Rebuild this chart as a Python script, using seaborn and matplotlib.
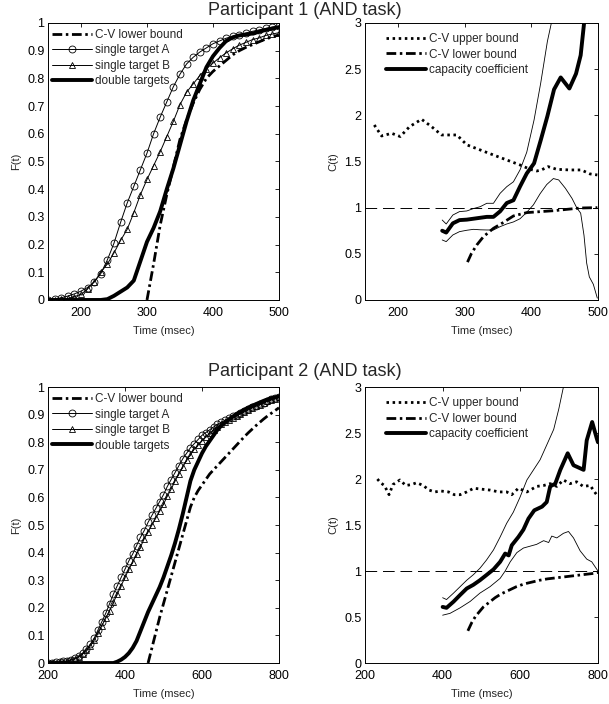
import matplotlib
matplotlib.use("Agg")
import matplotlib.pyplot as plt
import seaborn as sns
from matplotlib.ticker import FuncFormatter, MultipleLocator

# ---------------- Participant 1: cumulative distributions ----------------
t_f1 = list(range(150, 501, 10))
single_a1 = [0.0, 0.003, 0.008, 0.014, 0.022, 0.032, 0.045, 0.065, 0.095, 0.145,
             0.205, 0.28, 0.35, 0.41, 0.47, 0.53, 0.6, 0.66, 0.715, 0.77,
             0.815, 0.852, 0.876, 0.895, 0.91, 0.925, 0.935, 0.945, 0.952, 0.958,
             0.964, 0.97, 0.975, 0.98, 0.985, 0.988]
single_b1 = [0.0, 0.001, 0.003, 0.006, 0.012, 0.02, 0.04, 0.065, 0.1, 0.13,
             0.17, 0.215, 0.255, 0.315, 0.38, 0.435, 0.485, 0.535, 0.59, 0.645,
             0.705, 0.75, 0.78, 0.81, 0.835, 0.855, 0.875, 0.892, 0.907, 0.92,
             0.93, 0.94, 0.946, 0.955, 0.96, 0.965]
double_1 = [0.0, 0.0, 0.0, 0.0, 0.0, 0.0, 0.0, 0.0, 0.0, 0.003,
            0.015, 0.03, 0.045, 0.07, 0.14, 0.21, 0.26, 0.32, 0.4, 0.475,
            0.56, 0.645, 0.72, 0.78, 0.84, 0.88, 0.91, 0.935, 0.948, 0.955,
            0.958, 0.962, 0.968, 0.975, 0.98, 0.985]
t_lb_f1 = list(range(300, 501, 10))
lower_f1 = [0.0, 0.13, 0.27, 0.38, 0.48, 0.58, 0.65, 0.71, 0.76, 0.8,
            0.825, 0.845, 0.865, 0.885, 0.9, 0.912, 0.922, 0.932, 0.942, 0.95, 0.957]

# ---------------- Participant 1: capacity ----------------
t_ub1 = [164, 175, 190, 203, 217, 235, 250, 265, 288, 303, 323, 343, 363, 383,
         398, 408, 415, 425, 438, 458, 475, 488, 499]
upper_c1 = [1.895, 1.776, 1.805, 1.77, 1.877, 1.957, 1.877, 1.787, 1.787, 1.68,
            1.625, 1.57, 1.516, 1.462, 1.415, 1.397, 1.408, 1.444, 1.415, 1.408,
            1.408, 1.365, 1.354]
t_lbc1 = [304, 310, 318, 328, 343, 358, 373, 393, 414, 434, 454, 474, 499]
lower_c1 = [0.41, 0.505, 0.596, 0.686, 0.776, 0.84, 0.91, 0.946, 0.957, 0.967,
            0.982, 0.996, 1.0]
t_cap1 = [266, 272, 282, 292, 303, 313, 323, 333, 343, 353, 363, 373, 383, 393,
          404, 414, 424, 434, 444, 457, 467, 474, 479, 484]
capacity_1 = [0.75, 0.73, 0.83, 0.865, 0.87, 0.88, 0.89, 0.9, 0.9, 0.96, 1.05,
              1.08, 1.23, 1.37, 1.48, 1.73, 1.99, 2.28, 2.41, 2.29, 2.45, 2.65,
              2.99, 3.4]
t_ci_hi1 = [266, 272, 282, 292, 303, 313, 323, 333, 343, 353, 363, 373, 383, 393,
            404, 414, 424, 430, 436]
ci_hi1 = [0.866, 0.823, 0.92, 0.957, 0.964, 0.99, 1.01, 1.047, 1.047, 1.155,
          1.227, 1.28, 1.41, 1.6, 1.95, 2.35, 2.8, 3.0, 3.3]
t_ci_lo1 = [266, 272, 282, 292, 303, 313, 323, 333, 343, 353, 363, 373, 383, 393,
            403, 413, 423, 433, 441, 451, 461, 468, 474, 479, 483, 487, 493, 499]
ci_lo1 = [0.65, 0.632, 0.704, 0.74, 0.755, 0.765, 0.76, 0.758, 0.758, 0.794,
          0.823, 0.845, 0.88, 0.95, 1.03, 1.15, 1.25, 1.315, 1.3, 1.21, 1.1, 1.0,
          0.94, 0.7, 0.4, 0.25, 0.17, 0.02]

# ---------------- Participant 2: cumulative distributions ----------------
t_f2 = list(range(200, 801, 10))
single_a2 = [0.0, 0.0, 0.002, 0.004, 0.006, 0.008, 0.012, 0.018, 0.025, 0.035,
             0.05, 0.068, 0.09, 0.12, 0.15, 0.18, 0.215, 0.25, 0.28, 0.31,
             0.34, 0.37, 0.395, 0.425, 0.455, 0.48, 0.51, 0.535, 0.56, 0.585,
             0.61, 0.64, 0.665, 0.69, 0.715, 0.74, 0.76, 0.78, 0.795, 0.81,
             0.825, 0.835, 0.845, 0.855, 0.865, 0.872, 0.88, 0.887, 0.894, 0.9,
             0.907, 0.914, 0.92, 0.926, 0.932, 0.938, 0.944, 0.95, 0.955, 0.96,
             0.965]
single_b2 = [0.0, 0.0, 0.001, 0.002, 0.004, 0.006, 0.01, 0.015, 0.022, 0.032,
             0.046, 0.062, 0.082, 0.108, 0.135, 0.162, 0.19, 0.22, 0.25, 0.28,
             0.31, 0.34, 0.365, 0.395, 0.42, 0.45, 0.475, 0.5, 0.525, 0.55,
             0.575, 0.605, 0.63, 0.66, 0.685, 0.71, 0.735, 0.755, 0.775, 0.79,
             0.805, 0.82, 0.832, 0.845, 0.855, 0.865, 0.873, 0.881, 0.889, 0.896,
             0.903, 0.91, 0.917, 0.924, 0.93, 0.936, 0.942, 0.948, 0.953, 0.958,
             0.963]
double_2 = [0.0, 0.0, 0.0, 0.0, 0.0, 0.0, 0.0, 0.0, 0.0, 0.0,
            0.0, 0.0, 0.0, 0.0, 0.0, 0.0, 0.0, 0.0, 0.005, 0.012,
            0.022, 0.036, 0.055, 0.08, 0.115, 0.15, 0.185, 0.215, 0.245, 0.275,
            0.31, 0.35, 0.39, 0.435, 0.485, 0.54, 0.6, 0.66, 0.7, 0.73,
            0.76, 0.785, 0.805, 0.825, 0.845, 0.86, 0.872, 0.883, 0.893, 0.902,
            0.91, 0.918, 0.925, 0.932, 0.938, 0.944, 0.95, 0.955, 0.96, 0.963,
            0.967]
t_lb_f2 = list(range(460, 801, 10))
lower_f2 = [0.0, 0.055, 0.11, 0.165, 0.215, 0.265, 0.315, 0.365, 0.415, 0.465,
            0.515, 0.565, 0.6, 0.625, 0.645, 0.665, 0.685, 0.7, 0.715, 0.73,
            0.745, 0.76, 0.775, 0.79, 0.805, 0.82, 0.834, 0.847, 0.86, 0.872,
            0.884, 0.895, 0.905, 0.915, 0.925]

# ---------------- Participant 2: capacity ----------------
t_ub2 = [232, 240, 250, 262, 272, 290, 305, 320, 333, 350, 365, 380, 395, 415,
         430, 445, 462, 480, 500, 522, 545, 565, 578, 595, 617, 642, 660, 677,
         694, 711, 728, 745, 762, 780, 793, 800]
upper_c2 = [2.0, 1.96, 1.93, 1.83, 1.94, 1.99, 1.93, 1.94, 1.96, 1.93, 1.88, 1.86,
            1.87, 1.86, 1.83, 1.83, 1.86, 1.9, 1.89, 1.88, 1.86, 1.86, 1.83, 1.9,
            1.86, 1.92, 1.93, 1.95, 1.92, 1.99, 1.95, 1.97, 1.92, 1.93, 1.85, 1.81]
t_lbc2 = [465, 475, 485, 495, 505, 520, 535, 550, 570, 590, 610, 630, 650, 670,
          690, 710, 730, 750, 770, 790, 800]
lower_c2 = [0.35, 0.44, 0.51, 0.56, 0.61, 0.66, 0.71, 0.75, 0.79, 0.83, 0.86,
            0.88, 0.9, 0.915, 0.925, 0.935, 0.945, 0.955, 0.965, 0.975, 0.985]
t_cap2 = [400, 410, 428, 445, 462, 479, 496, 513, 531, 548, 561, 570, 578, 595,
          608, 621, 636, 656, 668, 677, 690, 703, 722, 737, 763, 771, 785, 797, 800]
capacity_2 = [0.61, 0.6, 0.667, 0.74, 0.81, 0.85, 0.9, 0.957, 1.018, 1.1, 1.19,
              1.17, 1.28, 1.37, 1.45, 1.57, 1.66, 1.7, 1.75, 1.92, 1.95, 2.1,
              2.28, 2.15, 2.1, 2.42, 2.62, 2.44, 2.4]
t_ci_hi2 = [400, 410, 428, 445, 462, 479, 496, 513, 531, 548, 565, 582, 599, 617,
            634, 651, 668, 686, 699, 711, 720]
ci_hi2 = [0.71, 0.69, 0.76, 0.83, 0.9, 0.96, 1.03, 1.12, 1.23, 1.37, 1.52, 1.64,
          1.8, 1.99, 2.1, 2.21, 2.37, 2.54, 2.76, 3.0, 3.3]
t_ci_lo2 = [400, 419, 445, 471, 496, 522, 548, 561, 574, 591, 608, 625, 642, 660,
            673, 681, 694, 711, 724, 737, 754, 771, 784, 800]
ci_lo2 = [0.52, 0.54, 0.6, 0.67, 0.76, 0.83, 0.92, 1.0, 1.1, 1.2, 1.25, 1.27,
          1.29, 1.33, 1.31, 1.38, 1.36, 1.41, 1.43, 1.36, 1.22, 1.13, 1.1, 1.0]

unlimited_level = 1.0
titles = ["Participant 1 (AND task)", "Participant 2 (AND task)"]

# ---------------- styling ----------------
sns.set_theme(style="white")
plt.rcParams["font.family"] = ["Liberation Sans", "DejaVu Sans"]
plt.rcParams["axes.edgecolor"] = "black"
plt.rcParams["axes.linewidth"] = 0.7

DOT = (0, (0.9, 1.3))
DASHDOT = (0, (3.5, 1.3, 0.9, 1.3))
DASH = (0, (12, 6))


def line(ax, x, y, **kw):
    sns.lineplot(x=x, y=y, ax=ax, color="black", sort=False, estimator=None,
                 errorbar=None, **kw)


def finish(ax, xlim, ylim, ystep, xstep, ylabel, order, anchor):
    ax.set_xlim(*xlim)
    ax.set_ylim(*ylim)
    ax.xaxis.set_major_locator(MultipleLocator(xstep))
    ax.yaxis.set_major_locator(MultipleLocator(ystep))
    ax.yaxis.set_major_formatter(FuncFormatter(lambda v, _: f"{v:g}"))
    ax.tick_params(direction="in", top=True, right=True, length=3, width=0.6,
                   labelsize=9, colors="black")
    ax.tick_params(axis="x", pad=5)
    ax.tick_params(axis="y", pad=2.5)
    ax.set_xlabel("Time (msec)", fontsize=8, labelpad=5)
    ax.set_ylabel(ylabel, fontsize=8, labelpad=4)
    handles, labels = ax.get_legend_handles_labels()
    lookup = dict(zip(labels, handles))
    ax.legend([lookup[k] for k in order], order, loc="upper left",
              bbox_to_anchor=anchor, frameon=False, fontsize=8.5,
              handlelength=3.4, handletextpad=0.25, labelspacing=0.3,
              borderaxespad=0.3, borderpad=0.2, numpoints=1)


def cdf_panel(ax, t, a, b, d, t_lb, lb, xlim, xstep):
    line(ax, t_lb, lb, linestyle=DASHDOT, linewidth=2.0, label="C-V lower bound")
    line(ax, t, a, linewidth=0.7, marker="o", markersize=5,
         markerfacecolor="none", markeredgecolor="black", markeredgewidth=0.6,
         label="single target A")
    line(ax, t, b, linewidth=0.7, marker="^", markersize=5,
         markerfacecolor="none", markeredgecolor="black", markeredgewidth=0.6,
         label="single target B")
    line(ax, t, d, linewidth=2.8, label="double targets")
    finish(ax, xlim, (0, 1), 0.1, xstep, "F(t)",
           ["C-V lower bound", "single target A", "single target B",
            "double targets"], (-0.01, 1.0))


def cap_panel(ax, t_ub, ub, t_lb, lb, t_c, c, t_hi, hi, t_lo, lo, xlim, xstep):
    ax.axhline(unlimited_level, color="black", linewidth=0.7, linestyle=DASH)
    line(ax, t_ub, ub, linestyle=DOT, linewidth=2.0, label="C-V upper bound")
    line(ax, t_lb, lb, linestyle=DASHDOT, linewidth=2.0, label="C-V lower bound")
    line(ax, t_hi, hi, linewidth=0.6)
    line(ax, t_lo, lo, linewidth=0.6)
    line(ax, t_c, c, linewidth=2.8, label="capacity coefficient")
    finish(ax, xlim, (0, 3), 0.5, xstep, "C(t)",
           ["C-V upper bound", "C-V lower bound", "capacity coefficient"],
           (0.065, 0.985))


fig = plt.figure(figsize=(6.09, 7.04), dpi=100)
ax1 = fig.add_axes([0.0788, 0.5739, 0.3793, 0.3935])
ax2 = fig.add_axes([0.5993, 0.5739, 0.3826, 0.3935])
ax3 = fig.add_axes([0.0788, 0.0582, 0.3793, 0.3920])
ax4 = fig.add_axes([0.5993, 0.0582, 0.3826, 0.3920])

cdf_panel(ax1, t_f1, single_a1, single_b1, double_1, t_lb_f1, lower_f1,
          (150, 500), 100)
cap_panel(ax2, t_ub1, upper_c1, t_lbc1, lower_c1, t_cap1, capacity_1,
          t_ci_hi1, ci_hi1, t_ci_lo1, ci_lo1, (150, 500), 100)
cdf_panel(ax3, t_f2, single_a2, single_b2, double_2, t_lb_f2, lower_f2,
          (200, 800), 200)
cap_panel(ax4, t_ub2, upper_c2, t_lbc2, lower_c2, t_cap2, capacity_2,
          t_ci_hi2, ci_hi2, t_ci_lo2, ci_lo2, (200, 800), 200)

fig.text(0.5, 0.985, titles[0], ha="center", va="center", fontsize=13)
fig.text(0.5, 0.4716, titles[1], ha="center", va="center", fontsize=13)

fig.savefig("out.png", dpi=100, facecolor="white")
